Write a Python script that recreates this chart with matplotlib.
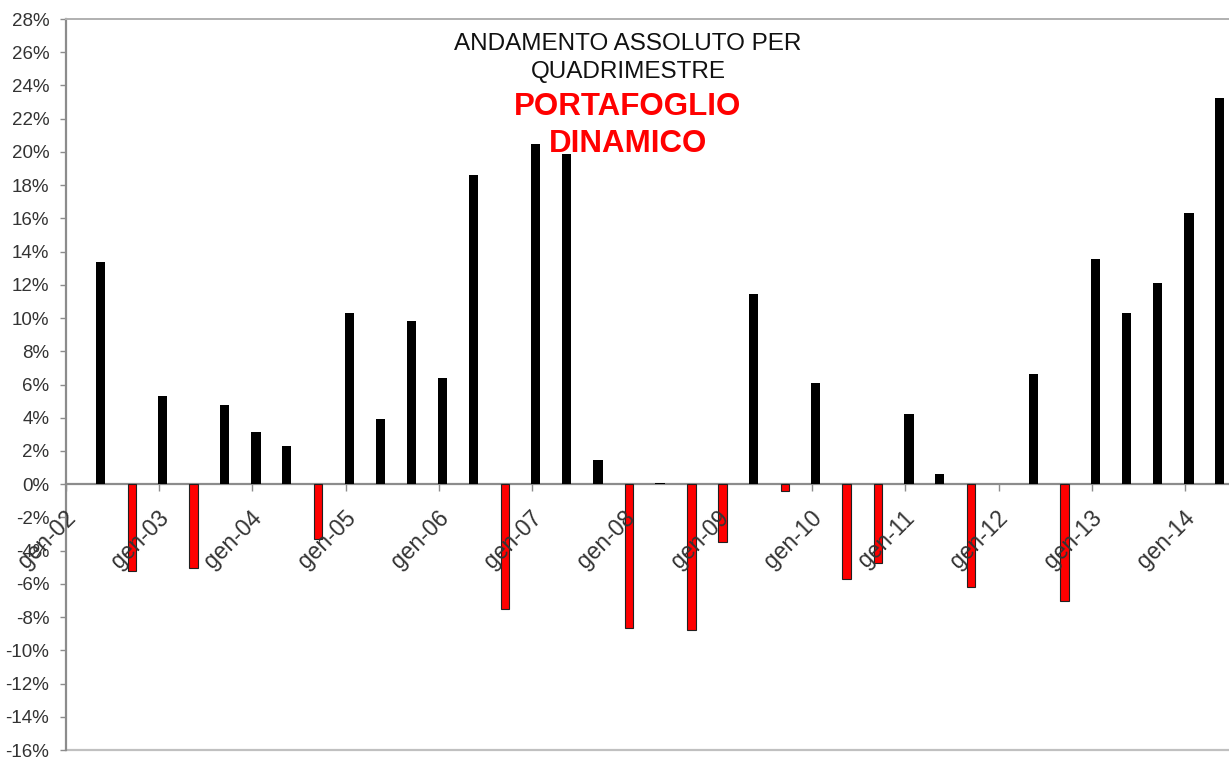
import numpy as np
import pandas as pd
import matplotlib
matplotlib.use('Agg')
import matplotlib.pyplot as plt
import matplotlib.transforms as mtransforms
from matplotlib.ticker import FuncFormatter

plt.rcParams['font.family'] = ['Liberation Sans', 'DejaVu Sans']
plt.rcParams['axes.unicode_minus'] = False

# quadrimestri (mese di chiusura) e rendimento assoluto in %
periodi = ['2002-05', '2002-09', '2003-01', '2003-05', '2003-09', '2004-01', '2004-05', '2004-09',
           '2005-01', '2005-05', '2005-09', '2006-01', '2006-05', '2006-09', '2007-01', '2007-05',
           '2007-09', '2008-01', '2008-05', '2008-09', '2009-01', '2009-05', '2009-09', '2010-01',
           '2010-05', '2010-09', '2011-01', '2011-05', '2011-09', '2012-01', '2012-05', '2012-09',
           '2013-01', '2013-05', '2013-09', '2014-01', '2014-05']
rendimenti = [13.4, -5.2, 5.3, -5.05, 4.75, 3.15, 2.3, -3.3,
              10.3, 3.95, 9.8, 6.4, 18.6, -7.5, 20.5, 19.9,
              1.45, -8.65, 0.1, -8.8, -3.5, 11.45, -0.4, 6.1,
              -5.7, -4.75, 4.2, 0.6, -6.2, 0.0, 6.65, -7.0,
              13.55, 10.3, 12.1, 16.35, 23.25]
anni = list(range(2002, 2015))
etichette = ['gen-%02d' % (a % 100) for a in anni]

date = pd.to_datetime(periodi) + pd.Timedelta(days=14)
valori = np.array(rendimenti) / 100.0
pos = valori >= 0

fig = plt.figure(figsize=(12.29, 7.57), dpi=100)
ax = fig.add_axes([0.0537, 0.0092, 0.9463, 0.9657])

# positivi neri pieni, negativi rossi con bordo scuro
ax.bar(date[pos], valori[pos], width=36, color='black', linewidth=0, zorder=3)
ax.bar(date[~pos], valori[~pos], width=32, color='red', edgecolor='#202020',
       linewidth=0.8, zorder=3)

ax.set_ylim(-0.16, 0.28)
ax.set_yticks(np.arange(-0.16, 0.281, 0.02))
ax.yaxis.set_major_formatter(FuncFormatter(lambda v, p: '%d%%' % round(v * 100)))
ax.set_xlim(pd.Timestamp('2002-01-01'), pd.Timestamp('2014-06-21'))

tick_anni = [pd.Timestamp('%d-01-01' % a) for a in anni]
ax.set_xticks(tick_anni)
ax.set_xticklabels([])

# asse x sullo zero, cornice grigia
ax.spines['bottom'].set_position(('data', 0))
ax.spines['bottom'].set_color('#8c8c8c')
ax.spines['bottom'].set_linewidth(1.6)
ax.spines['left'].set_color('#8c8c8c')
ax.spines['left'].set_linewidth(1.6)
ax.spines['top'].set_color('#b0b0b0')
ax.spines['top'].set_linewidth(1.4)
ax.spines['right'].set_visible(False)
ax.axhline(-0.16, color='#c0c0c0', linewidth=1.6, clip_on=False, zorder=1)

ax.tick_params(axis='y', direction='out', length=4, width=1, color='#8c8c8c',
               labelsize=13.5, labelcolor='#333333', pad=8)
ax.tick_params(axis='x', direction='out', length=5, width=1, color='#8c8c8c')

# etichette delle date inclinate, appese sotto lo zero
spost = mtransforms.ScaledTranslation(6 / 100, -30 / 100, fig.dpi_scale_trans)
for t, lab in zip(tick_anni, etichette):
    ax.text(t, 0, lab, transform=ax.transData + spost, rotation=45,
            rotation_mode='anchor', ha='right', va='center',
            fontsize=16.5, color='#333333', zorder=4, clip_on=False)

# titolo dentro il grafico
fig.text(0.511, 0.942, 'ANDAMENTO ASSOLUTO PER', ha='center', va='center',
         fontsize=17.5, color='#111111')
fig.text(0.511, 0.905, 'QUADRIMESTRE', ha='center', va='center',
         fontsize=17.5, color='#111111')
fig.text(0.511, 0.859, 'PORTAFOGLIO', ha='center', va='center',
         fontsize=22.5, color='red', fontweight='bold')
fig.text(0.511, 0.810, 'DINAMICO', ha='center', va='center',
         fontsize=22.5, color='red', fontweight='bold')

fig.savefig('out.png', dpi=100)
